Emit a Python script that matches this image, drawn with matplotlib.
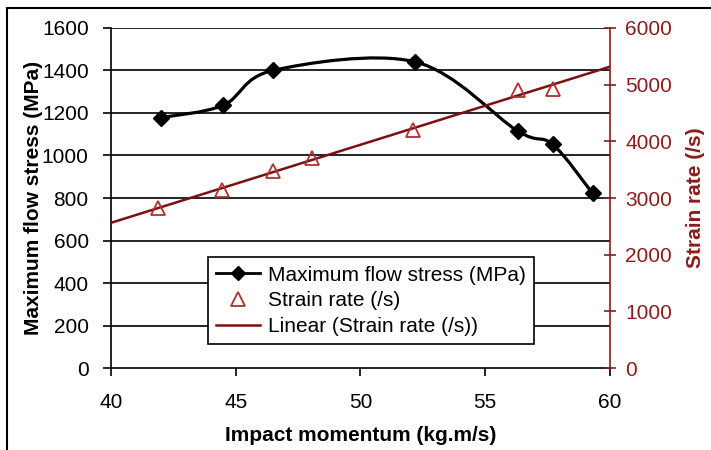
import numpy as np
import matplotlib
matplotlib.use("Agg")
import matplotlib.pyplot as plt
from matplotlib.path import Path
from matplotlib.patches import PathPatch
from matplotlib.lines import Line2D

momentum = [42.0, 44.5, 46.5, 52.2, 56.3, 57.7, 59.3]
flow_stress = [1178, 1236, 1400, 1440, 1115, 1052, 822]

rate_momentum = [41.9, 44.45, 46.5, 48.05, 52.1, 56.3, 57.7]
strain_rate = [2820, 3140, 3475, 3705, 4200, 4905, 4915]

xticks = [40, 45, 50, 55, 60]
yticks_left = [0, 200, 400, 600, 800, 1000, 1200, 1400, 1600]
yticks_right = [0, 1000, 2000, 3000, 4000, 5000, 6000]

dark_red = "#8c1c1c"
plt.rcParams["font.family"] = ["Liberation Sans", "DejaVu Sans"]


def smooth_path(x, y):
    # excel style smoothed line (catmull-rom as cubic bezier)
    pts = np.column_stack([x, y]).astype(float)
    n = len(pts)
    verts = [pts[0]]
    codes = [Path.MOVETO]
    for i in range(n - 1):
        p0 = pts[max(i - 1, 0)]
        p3 = pts[min(i + 2, n - 1)]
        c1 = pts[i] + (pts[i + 1] - p0) / 6.0
        c2 = pts[i + 1] - (p3 - pts[i]) / 6.0
        verts += [c1, c2, pts[i + 1]]
        codes += [Path.CURVE4] * 3
    return Path(verts, codes)


fig = plt.figure(figsize=(7.11, 4.5), dpi=100)
ax = fig.add_axes([0.156, 0.182, 0.702, 0.756])
ax2 = ax.twinx()

ax.set_xlim(40, 60)
ax.set_ylim(0, 1600)
ax2.set_ylim(0, 6000)

for v in yticks_left[1:]:
    ax.axhline(v, color="black", lw=1.2, zorder=1)

ax.add_patch(PathPatch(smooth_path(momentum, flow_stress), facecolor="none",
                       edgecolor="black", lw=2.3, zorder=3))
ax.plot(momentum, flow_stress, ls="none", marker="D", ms=8, color="black", zorder=4)

ax2.plot(rate_momentum, strain_rate, ls="none", marker="^", ms=10,
         mfc="none", mec="#b03030", mew=1.3, zorder=4)
fit = np.polyfit(rate_momentum, strain_rate, 1)
xs = np.array([40, 60])
ax2.plot(xs, np.polyval(fit, xs), color="#7a1010", lw=1.8, zorder=3)

ax.set_xticks(xticks)
ax.set_yticks(yticks_left)
ax2.set_yticks(yticks_right)

for a in (ax, ax2):
    a.spines["top"].set_visible(False)
ax.spines["right"].set_visible(False)
ax2.spines["left"].set_visible(False)
ax2.spines["bottom"].set_visible(False)
ax.spines["left"].set_linewidth(1.2)
ax.spines["bottom"].set_linewidth(1.2)
ax2.spines["right"].set_color(dark_red)
ax2.spines["right"].set_linewidth(1.2)

ax.tick_params(axis="x", labelsize=15, direction="out", length=6, width=1.2, pad=12)
ax.tick_params(axis="y", labelsize=15, direction="out", length=6, width=1.2, pad=10)
ax2.tick_params(axis="y", labelsize=15, direction="inout", length=8, width=1.2,
                colors=dark_red, pad=7)

ax.set_xlabel("Impact momentum (kg.m/s)", fontsize=15, fontweight="bold", labelpad=10)
ax.set_ylabel("Maximum flow stress (MPa)", fontsize=15, fontweight="bold", labelpad=-1)
ax2.set_ylabel("Strain rate (/s)", fontsize=15, fontweight="bold", color=dark_red,
               labelpad=10)

handles = [
    Line2D([], [], color="black", marker="D", ms=7, lw=2.0),
    Line2D([], [], ls="none", marker="^", ms=10, mfc="none", mec="#b03030", mew=1.3),
    Line2D([], [], color="#7a1010", lw=1.8),
]
labels = ["Maximum flow stress (MPa)", "Strain rate (/s)", "Linear (Strain rate (/s))"]
leg = ax2.legend(handles, labels, loc="lower left", bbox_to_anchor=(0.194, 0.07),
                 fontsize=15, frameon=True, fancybox=False, framealpha=1,
                 edgecolor="black", borderpad=0.4, labelspacing=0.32,
                 handlelength=2.1, handletextpad=0.4, borderaxespad=0)
leg.get_frame().set_linewidth(1.2)
leg.set_zorder(10)

# outer frame of the figure (left and top edges)
fig.add_artist(Line2D([0.01, 0.01], [0.0, 0.982], color="black", lw=1.5,
                      transform=fig.transFigure))
fig.add_artist(Line2D([0.01, 1.0], [0.982, 0.982], color="black", lw=1.5,
                      transform=fig.transFigure))

fig.savefig("out.png", dpi=100)
